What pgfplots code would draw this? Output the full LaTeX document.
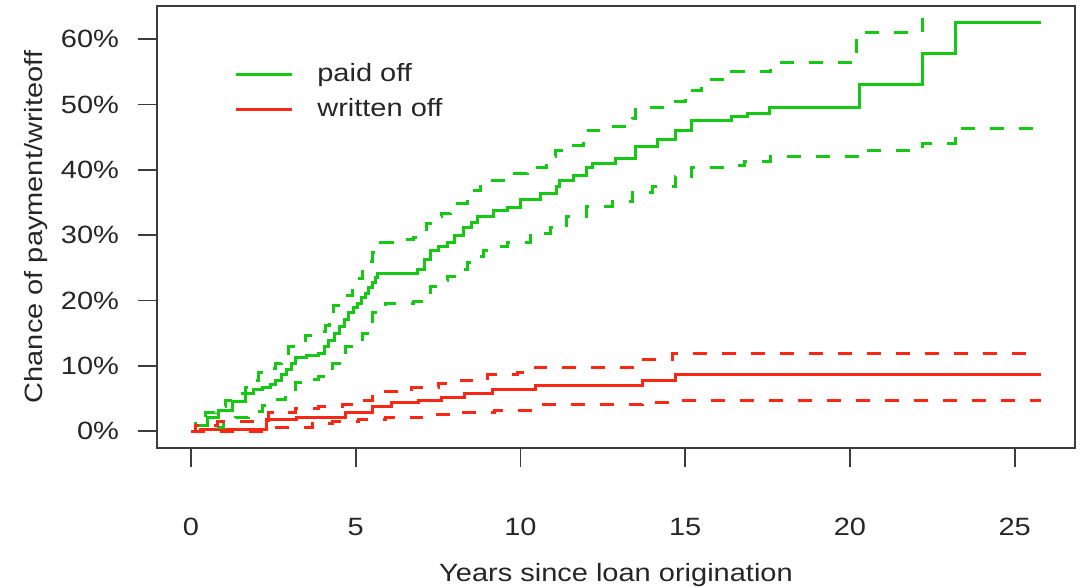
\documentclass[border=0pt]{standalone}
\usepackage{fontspec}
\setmainfont{Liberation Sans}[FakeStretch=1.16]
\usepackage{pgfplots}
\pgfplotsset{compat=1.18}
\definecolor{gr}{RGB}{20,200,20}
\definecolor{rd}{RGB}{248,40,20}
\definecolor{ax}{RGB}{60,60,60}
\begin{document}
\begin{tikzpicture}[font=\fontsize{12.5pt}{15pt}\selectfont]
\path[use as bounding box] (-78.5pt,-69pt) rectangle (463.5pt,224pt);
\begin{axis}[
  at={(0pt,0pt)}, anchor=south west,
  scale only axis, width=459pt, height=221pt,
  xmin=-1.03, xmax=26.83, ymin=-2.6, ymax=65.1,
  xtick={0,5,10,15,20,25},
  ytick={0,10,20,30,40,50,60},
  yticklabels={0\%,10\%,20\%,30\%,40\%,50\%,60\%},
  xtick pos=bottom, ytick pos=left,
  tick align=outside, major tick length=9.5pt,
  tick style={ax, line width=0.9pt},
  axis line style={ax, line width=0.9pt},
  /pgf/number format/assume math mode=true,
  ticklabel style={text=black!85},
  xticklabel style={yshift=-22pt},
  yticklabel style={xshift=-6pt},
  xlabel={Years since loan origination},
  ylabel={Chance of payment/writeoff},
  xlabel style={at={(axis description cs:0.5,-0.2873)}, anchor=center, text=black!85},
  ylabel style={at={(axis description cs:-0.1318,0.5)}, anchor=center, text=black!85},
  legend cell align=left,
  legend style={at={(axis description cs:0.0838,0.874)}, anchor=north west, draw=none, fill=none,
    inner sep=0pt, row sep=5pt, column sep=12pt,
    nodes={inner sep=0pt, text height=9.5pt, text depth=3pt, text=black!85}},
  legend image code/.code={\draw[#1] (0pt,0pt) -- (28pt,0pt);},
  every axis plot/.append style={line width=1.5pt, const plot},
]
% green solid: paid off
\addplot[gr] coordinates {
(0,0) (0.15,0.9) (0.5,2.0) (0.85,3.2) (1.25,4.5) (1.67,5.8) (1.9,6.3) (2.18,6.7)
(2.4,7.2) (2.58,7.8) (2.75,8.7) (2.9,9.5) (3.05,10.4) (3.18,11.3) (3.5,11.6)
(3.88,11.9) (4.05,12.9) (4.18,13.9) (4.35,15.0) (4.5,16.0) (4.65,17.1) (4.79,18.1)
(4.92,18.9) (5.05,19.6) (5.18,20.4) (5.3,21.1) (5.4,22.0) (5.5,22.8) (5.6,23.5)
(5.67,24.2) (6.88,24.7) (7.1,26.2) (7.27,27.7) (7.5,28.2) (7.79,28.8)
(8.0,30.0) (8.27,31.2) (8.5,32.0) (8.7,32.8) (9.18,33.8) (9.6,34.3) (10.0,35.4) (10.6,36.4)
(11.1,37.4) (11.2,38.4) (11.6,39.2) (12.0,40.4) (12.2,41.0) (12.9,41.8) (13.5,43.6)
(14.15,44.6) (14.7,46.1) (15.2,47.6) (16.4,48.1) (16.9,48.7) (17.55,49.6) (20.3,53.0)
(22.2,57.9) (23.2,62.5) (25.8,62.5)};
\addlegendentry{paid off}
% red solid: written off
\addplot[rd] coordinates {
(0,0) (0.3,0.3) (2.3,1.7) (3.2,2.0) (4.7,2.8) (5.5,3.7) (6.1,4.3) (6.9,4.7)
(7.6,5.2) (8.3,5.8) (9.15,6.3) (10.45,7.0) (13.7,7.8) (14.7,8.6) (25.8,8.6)};
\addlegendentry{written off}
% green upper dashed
\addplot[gr, forget plot, dash pattern=on 7pt off 7.5pt] coordinates {
(0,0) (0.15,1.5) (0.45,2.8) (0.75,3.7) (1.06,4.7) (1.35,5.7) (1.67,6.7) (1.85,7.8)
(2.06,8.9) (2.3,9.6) (2.58,10.4) (2.75,11.6) (2.97,12.9) (3.2,13.8) (3.48,14.7)
(3.8,15.3) (4.09,16.1) (4.2,17.6) (4.33,19.3) (4.6,20.7) (4.91,22.1) (5.05,23.3)
(5.2,24.5) (5.35,25.9) (5.52,27.3) (5.76,28.8)
(6.27,29.3) (6.76,29.7) (6.97,30.8) (7.15,31.8) (7.36,32.8) (7.6,33.3) (7.88,33.8)
(8.1,34.8) (8.39,35.8) (8.6,36.9) (8.79,38.0)
(9.09,38.4) (9.7,39.5) (10.2,40.4) (10.8,42.0) (11.05,42.9) (11.3,43.8) (11.9,45.0) (12.06,46.1)
(12.6,46.6) (13.4,47.9) (13.5,49.6) (14.5,50.4) (15.0,52.2) (15.5,53.8) (16.4,55.0)
(17.6,56.4) (20.2,61.1) (22.2,75) (25.8,75)};
% green lower dashed
\addplot[gr, forget plot, dash pattern=on 7pt off 7.5pt] coordinates {
(0,0) (0.5,0.5) (1.0,1.3) (1.36,2.1) (1.75,3.0) (2.18,3.9) (2.5,4.8) (2.88,5.7)
(3.18,7.4) (3.5,7.9) (3.88,8.3) (4.1,9.3) (4.3,10.4) (4.5,11.6) (4.7,12.9)
(4.95,14.0) (5.21,15.0) (5.35,16.5) (5.52,18.1) (5.7,18.9) (5.9,19.6) (6.76,19.8)
(7.0,21.0) (7.27,22.2) (7.5,23.0) (7.79,23.7) (8.1,24.8) (8.39,25.8) (8.6,26.8)
(8.88,27.7) (9.2,28.2) (9.6,28.8) (10.3,30.3) (10.9,31.1) (11.4,32.9)
(12.0,34.4) (12.8,35.1) (13.4,36.5) (14.0,37.4) (14.7,39.0) (15.2,40.4) (16.2,40.6)
(16.8,41.3) (17.6,42.0) (20.3,43.0) (22.2,44.1) (23.2,46.4) (25.8,46.4)};
% red upper dashed
\addplot[rd, forget plot, dash pattern=on 7pt off 7.5pt] coordinates {
(0,0) (0.15,0.9) (0.8,1.4) (2.36,2.8) (2.88,2.9) (3.18,3.5) (3.88,3.7) (4.6,4.0)
(5.1,4.7) (5.5,5.5) (5.9,6.0) (6.7,6.6) (7.5,7.3) (8.2,7.8) (9.0,8.6) (9.9,8.9)
(10.45,9.8) (13.5,10.9) (14.6,11.9) (25.8,11.9)};
% red lower dashed
\addplot[rd, forget plot, dash pattern=on 7pt off 7.5pt] coordinates {
(0,0) (2.5,0.5) (3.7,1.2) (4.3,1.4) (5.1,1.7) (5.9,2.0) (6.7,2.1) (7.4,2.5)
(8.2,2.9) (9.2,3.2) (10.5,4.0) (13.7,4.4) (14.6,4.7) (25.8,4.7)};
\end{axis}
\end{tikzpicture}
\end{document}
